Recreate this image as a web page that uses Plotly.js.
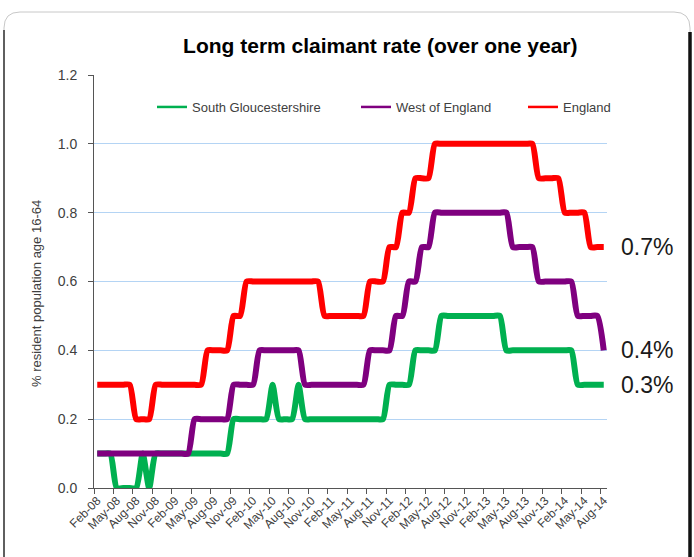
<!DOCTYPE html>
<html><head><meta charset="utf-8">
<script src="https://cdn.plot.ly/plotly-3.0.1.min.js"></script>
<style>html,body{margin:0;padding:0;background:#fff}#chart{width:694px;height:557px}</style>
</head><body><div id="chart"></div>
<script>
// Monthly categories Feb-08 .. Aug-14
const months = [
 "Feb-08","Mar-08","Apr-08","May-08","Jun-08","Jul-08","Aug-08","Sep-08","Oct-08","Nov-08","Dec-08",
 "Jan-09","Feb-09","Mar-09","Apr-09","May-09","Jun-09","Jul-09","Aug-09","Sep-09","Oct-09","Nov-09","Dec-09",
 "Jan-10","Feb-10","Mar-10","Apr-10","May-10","Jun-10","Jul-10","Aug-10","Sep-10","Oct-10","Nov-10","Dec-10",
 "Jan-11","Feb-11","Mar-11","Apr-11","May-11","Jun-11","Jul-11","Aug-11","Sep-11","Oct-11","Nov-11","Dec-11",
 "Jan-12","Feb-12","Mar-12","Apr-12","May-12","Jun-12","Jul-12","Aug-12","Sep-12","Oct-12","Nov-12","Dec-12",
 "Jan-13","Feb-13","Mar-13","Apr-13","May-13","Jun-13","Jul-13","Aug-13","Sep-13","Oct-13","Nov-13","Dec-13",
 "Jan-14","Feb-14","Mar-14","Apr-14","May-14","Jun-14","Jul-14","Aug-14"
];
const southGlos = [
 0.1,0.1,0.1,0,0,0,0,0.1,0,0.1,0.1,
 0.1,0.1,0.1,0.1,0.1,0.1,0.1,0.1,0.1,0.1,0.2,0.2,
 0.2,0.2,0.2,0.2,0.3,0.2,0.2,0.2,0.3,0.2,0.2,0.2,
 0.2,0.2,0.2,0.2,0.2,0.2,0.2,0.2,0.2,0.2,0.3,0.3,
 0.3,0.3,0.4,0.4,0.4,0.4,0.5,0.5,0.5,0.5,0.5,0.5,
 0.5,0.5,0.5,0.5,0.4,0.4,0.4,0.4,0.4,0.4,0.4,0.4,
 0.4,0.4,0.4,0.3,0.3,0.3,0.3,0.3
];
const westOfEngland = [
 0.1,0.1,0.1,0.1,0.1,0.1,0.1,0.1,0.1,0.1,0.1,
 0.1,0.1,0.1,0.1,0.2,0.2,0.2,0.2,0.2,0.2,0.3,0.3,
 0.3,0.3,0.4,0.4,0.4,0.4,0.4,0.4,0.4,0.3,0.3,0.3,
 0.3,0.3,0.3,0.3,0.3,0.3,0.3,0.4,0.4,0.4,0.4,0.5,
 0.5,0.6,0.6,0.7,0.7,0.8,0.8,0.8,0.8,0.8,0.8,0.8,
 0.8,0.8,0.8,0.8,0.8,0.7,0.7,0.7,0.7,0.6,0.6,0.6,
 0.6,0.6,0.6,0.5,0.5,0.5,0.5,0.4
];
const england = [
 0.3,0.3,0.3,0.3,0.3,0.3,0.2,0.2,0.2,0.3,0.3,
 0.3,0.3,0.3,0.3,0.3,0.3,0.4,0.4,0.4,0.4,0.5,0.5,
 0.6,0.6,0.6,0.6,0.6,0.6,0.6,0.6,0.6,0.6,0.6,0.6,
 0.5,0.5,0.5,0.5,0.5,0.5,0.5,0.6,0.6,0.6,0.7,0.7,
 0.8,0.8,0.9,0.9,0.9,1.0,1.0,1.0,1.0,1.0,1.0,1.0,
 1.0,1.0,1.0,1.0,1.0,1.0,1.0,1.0,1.0,0.9,0.9,0.9,
 0.9,0.8,0.8,0.8,0.8,0.7,0.7,0.7
];
const seriesNames = ["South Gloucestershire","West of England","England"];
const seriesColors = ["#00B050","#7F007F","#FF0000"];
const seriesData = [southGlos, westOfEngland, england];
const legendIds = ["legend","legend2","legend3"];

const FONT = "Liberation Sans, Arial, sans-serif";
const TXT = "#404040";

// pixel -> paper helpers (plot area 94..607 x, 75..488 y)
const L = 94, R = 607, T = 75, B = 488;
const px = v => (v - L) / (R - L);
const py = v => (B - v) / (B - T);

const traces = [];
seriesData.forEach((d, i) => {
  traces.push({
    x: months, y: d, type: "scatter", mode: "lines",
    line: {color: seriesColors[i], width: 6, shape: "spline", smoothing: 0.6},
    showlegend: false, hoverinfo: "skip", cliponaxis: false
  });
});
seriesData.forEach((d, i) => {
  traces.push({
    x: [null], y: [null], type: "scatter", mode: "lines", name: seriesNames[i],
    line: {color: seriesColors[i], width: 2.5}, legend: legendIds[i], showlegend: true
  });
});

const legBase = {
  orientation: "h", yanchor: "middle", xanchor: "left", y: py(107),
  bgcolor: "rgba(0,0,0,0)", borderwidth: 0,
  font: {family: FONT, size: 13, color: TXT}
};

const annotations = seriesData.map((d, i) => ({
  xref: "paper", yref: "y", x: px(619), y: d[d.length - 1],
  xanchor: "left", yanchor: "middle", showarrow: false,
  text: d[d.length - 1].toFixed(1) + "%",
  font: {family: FONT, size: 23, color: "#1a1a1a"}
}));
annotations.push({
  xref: "paper", yref: "paper", x: px(36), y: py(294), textangle: -90,
  xanchor: "center", yanchor: "middle", showarrow: false,
  text: "% resident population age 16-64",
  font: {family: FONT, size: 13, color: TXT}
});

const shapes = [
  {type: "path", xref: "paper", yref: "paper",
   path: `M${px(4)},${py(560)} L${px(4)},${py(28)} Q${px(4)},${py(12)} ${px(20)},${py(12)} L${px(674)},${py(12)} Q${px(690)},${py(12)} ${px(690)},${py(28)} L${px(690)},${py(560)}`,
   line: {color: "#c8c8c8", width: 1}},
  {type: "line", xref: "paper", yref: "paper", x0: px(4), x1: px(4), y0: py(30), y1: py(560),
   line: {color: "#333", width: 1.5}},
  {type: "line", xref: "paper", yref: "paper", x0: px(690), x1: px(690), y0: py(32), y1: py(560),
   line: {color: "#111", width: 3.5}}
];

const layout = {
  width: 694, height: 557,
  margin: {l: L, r: 694 - R, t: T, b: 557 - B},
  paper_bgcolor: "#fff", plot_bgcolor: "#fff",
  font: {family: FONT, color: TXT},
  title: {text: "<b>Long term claimant rate (over one year)</b>", x: 0.548, xanchor: "center",
          y: 1 - 46 / 557, yanchor: "middle", yref: "container",
          font: {family: FONT, size: 21, color: "#000"}},
  xaxis: {
    type: "category", range: [-0.5, months.length - 0.5],
    tickmode: "linear", tick0: 0, dtick: 3, tickson: "boundaries",
    ticks: "outside", ticklen: 5, tickcolor: "#555",
    showline: true, linecolor: "#555", linewidth: 1,
    showgrid: false, zeroline: false, tickangle: -45,
    tickfont: {family: FONT, size: 12, color: TXT}, layer: "below traces"
  },
  yaxis: {
    range: [0, 1.2], dtick: 0.2, tickformat: ".1f",
    ticks: "outside", ticklen: 5, tickcolor: "#555",
    showline: true, linecolor: "#555", linewidth: 1,
    showgrid: true, gridcolor: "#B4D4F4", gridwidth: 1, zeroline: false,
    tickfont: {family: FONT, size: 14, color: TXT}, ticklabelstandoff: 8,
    layer: "below traces"
  },
  legend: Object.assign({}, legBase, {x: px(152)}),
  legend2: Object.assign({}, legBase, {x: px(356)}),
  legend3: Object.assign({}, legBase, {x: px(523)}),
  annotations: annotations,
  shapes: shapes
};

Plotly.newPlot("chart", traces, layout, {displayModeBar: false, staticPlot: true});
</script>
</body></html>
